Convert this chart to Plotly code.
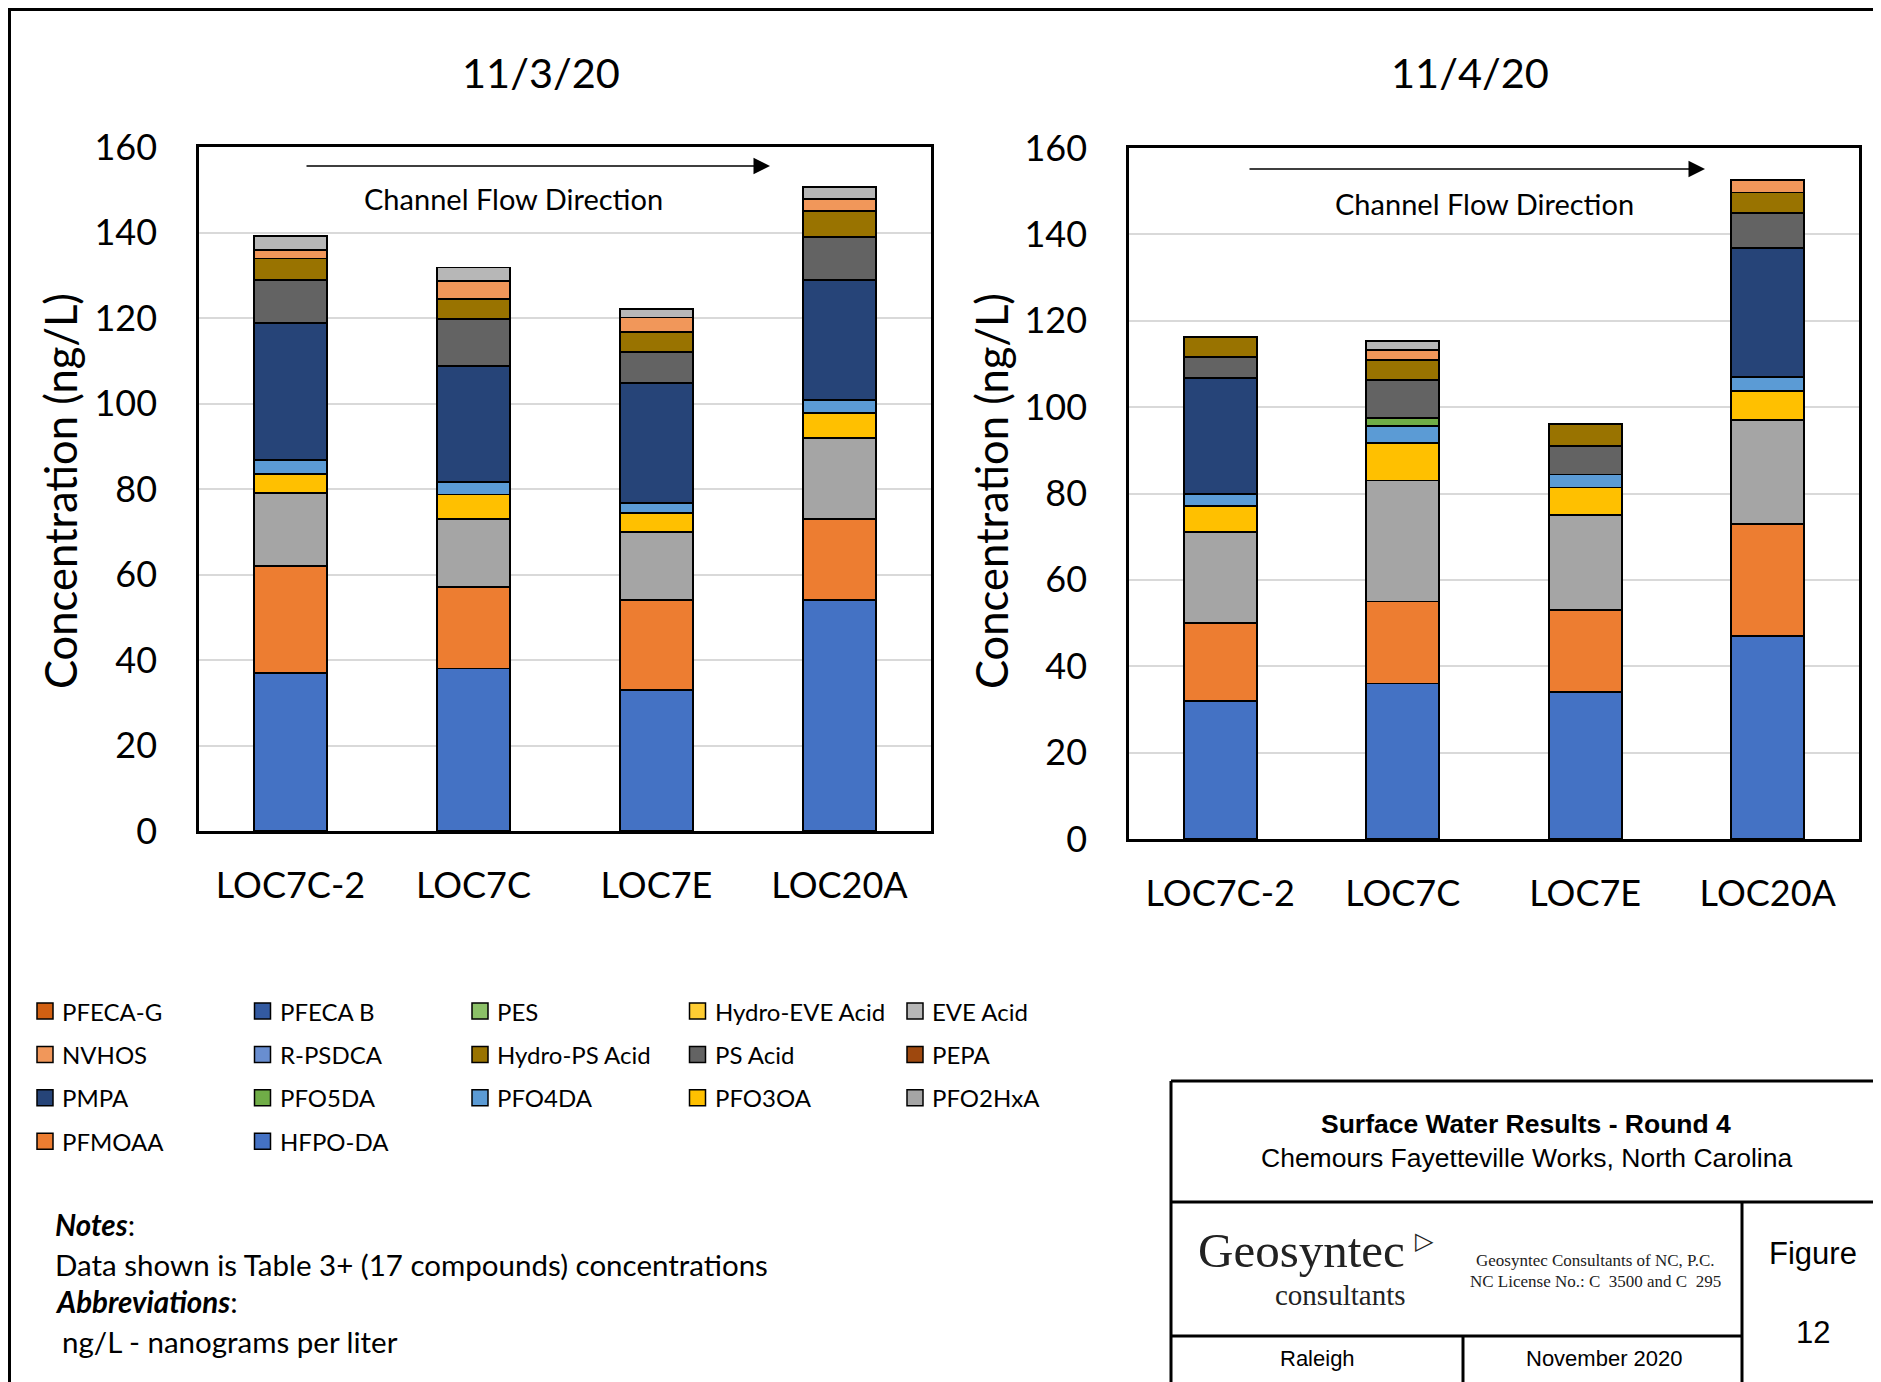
import plotly.graph_objects as go

W, H = 1881, 1382
OFF = 8  # page body margin

sites = ["LOC7C-2", "LOC7C", "LOC7E", "LOC20A"]
dates = ["11/3/20", "11/4/20"]

# stacking order, bottom to top
compounds = ["HFPO-DA", "PFMOAA", "PFO2HxA", "PFO3OA", "PFO4DA", "PFO5DA", "PMPA", "PEPA",
             "PS Acid", "Hydro-PS Acid", "R-PSDCA", "NVHOS", "EVE Acid", "Hydro-EVE Acid",
             "PES", "PFECA B", "PFECA-G"]
colors = ["#4472C4", "#ED7D31", "#A5A5A5", "#FFC000", "#5B9BD5", "#70AD47", "#264478", "#9E480E",
          "#636363", "#997300", "#698ED0", "#F1975A", "#B7B7B7", "#FFCD33",
          "#8CC168", "#335AA1", "#D26012"]

# concentrations in ng/L, one value per site (11/3/20)
hfpo_da_1103 = [37, 38, 33, 54]
pfmoaa_1103 = [25, 19, 21, 19]
pfo2hxa_1103 = [17, 16, 16, 19]
pfo3oa_1103 = [4.6, 5.7, 4.3, 5.8]
pfo4da_1103 = [3.2, 3.0, 2.5, 3.1]
pfo5da_1103 = [0, 0, 0, 0]
pmpa_1103 = [32, 27, 28, 28]
pepa_1103 = [0, 0, 0, 0]
ps_acid_1103 = [10, 11, 7.2, 10]
hydro_ps_1103 = [5.1, 4.8, 4.8, 6.1]
r_psdca_1103 = [0, 0, 0, 0]
nvhos_1103 = [2.1, 4.2, 3.3, 2.8]
eve_1103 = [3.2, 3.1, 2.0, 2.9]
hydro_eve_1103 = [0, 0, 0, 0]
pes_1103 = [0, 0, 0, 0]
pfeca_b_1103 = [0, 0, 0, 0]
pfeca_g_1103 = [0, 0, 0, 0]

# 11/4/20
hfpo_da_1104 = [32, 36, 34, 47]
pfmoaa_1104 = [18, 19, 19, 26]
pfo2hxa_1104 = [21, 28, 22, 24]
pfo3oa_1104 = [6.1, 8.7, 6.4, 6.7]
pfo4da_1104 = [2.7, 3.9, 3.0, 3.2]
pfo5da_1104 = [0, 1.9, 0, 0]
pmpa_1104 = [27, 0, 0, 30]
pepa_1104 = [0, 0, 0, 0]
ps_acid_1104 = [4.8, 8.7, 6.6, 8.0]
hydro_ps_1104 = [4.7, 4.8, 5.1, 4.8]
r_psdca_1104 = [0, 0, 0, 0]
nvhos_1104 = [0, 2.2, 0, 2.8]
eve_1104 = [0, 2.2, 0, 0]
hydro_eve_1104 = [0, 0, 0, 0]
pes_1104 = [0, 0, 0, 0]
pfeca_b_1104 = [0, 0, 0, 0]
pfeca_g_1104 = [0, 0, 0, 0]

nov3 = [hfpo_da_1103, pfmoaa_1103, pfo2hxa_1103, pfo3oa_1103, pfo4da_1103, pfo5da_1103,
        pmpa_1103, pepa_1103, ps_acid_1103, hydro_ps_1103, r_psdca_1103, nvhos_1103,
        eve_1103, hydro_eve_1103, pes_1103, pfeca_b_1103, pfeca_g_1103]
nov4 = [hfpo_da_1104, pfmoaa_1104, pfo2hxa_1104, pfo3oa_1104, pfo4da_1104, pfo5da_1104,
        pmpa_1104, pepa_1104, ps_acid_1104, hydro_ps_1104, r_psdca_1104, nvhos_1104,
        eve_1104, hydro_eve_1104, pes_1104, pfeca_b_1104, pfeca_g_1104]

FONT = "Lato"
ARIAL = "Liberation Sans"
SERIF = "Liberation Serif"


def px(x):
    return (x - OFF) / W


def py(y):
    return 1 - (y - OFF) / H


fig = go.Figure()
for series, xa, ya in [(nov3, "x", "y"), (nov4, "x2", "y2")]:
    for name, vals, col in zip(compounds, series, colors):
        fig.add_trace(go.Bar(x=sites, y=vals, name=name, xaxis=xa, yaxis=ya,
                             marker=dict(color=col, line=dict(color="black", width=1.8)),
                             showlegend=False))

tickfont = dict(family=FONT, size=36, color="black")
frame = dict(showline=True, mirror=True, linecolor="black", linewidth=2.5, automargin=False)
xax = dict(tickfont=tickfont, ticks="", ticklabelstandoff=21, **frame)
yax = dict(range=[0, 160], dtick=20, tickfont=tickfont, ticks="", ticklabelstandoff=32,
           showgrid=True, gridcolor="#D9D9D9", gridwidth=2, zeroline=False, **frame)

fig.update_layout(
    width=W, height=H, margin=dict(l=0, r=0, t=0, b=0, pad=0, autoexpand=False),
    paper_bgcolor="white", plot_bgcolor="white",
    barmode="stack", bargap=0.6, showlegend=False,
    xaxis=dict(domain=[px(199), px(931)], anchor="y", **xax),
    yaxis=dict(domain=[py(831), py(147)], anchor="x", **yax),
    xaxis2=dict(domain=[px(1129), px(1859)], anchor="y2", **xax),
    yaxis2=dict(domain=[py(839), py(148)], anchor="x2", **yax),
)

ann = []
shapes = []


def text(x, y, s, size, family=FONT, xanchor="center", angle=0, color="black"):
    ann.append(dict(x=px(x), y=py(y), xref="paper", yref="paper", text=s, showarrow=False,
                    xanchor=xanchor, yanchor="middle", textangle=angle,
                    font=dict(family=family, size=size, color=color)))


def line(x0, y0, x1, y1, w=3):
    shapes.append(dict(type="line", xref="paper", yref="paper", x0=px(x0), y0=py(y0),
                       x1=px(x1), y1=py(y1), line=dict(color="black", width=w)))


# chart titles, axis titles, flow arrows
for d, cx, ytx, arr in [(dates[0], 541, 60, (305, 770, 166, 513, 198)),
                        (dates[1], 1470, 991, (1248, 1705, 169, 1484, 203))]:
    text(cx, 72, d, 41.5)
    text(ytx, 491, "Concentration (ng/L)", 43.5, angle=-90)
    x0, x1, ya, tx, ty = arr
    ann.append(dict(x=px(x1), y=py(ya), xref="paper", yref="paper", ax=-(x1 - x0), ay=0,
                    text="", showarrow=True, arrowhead=2, arrowsize=2.2, arrowwidth=1.5,
                    arrowcolor="black", standoff=0))
    text(tx, ty, "Channel Flow Direction", 29)

# legend (row-wise, top of stack first)
legend_items = list(zip(compounds, colors))[::-1]
for i, (name, col) in enumerate(legend_items):
    r, c = divmod(i, 5)
    lx = 37 + c * 217.5
    ly = 1011 + r * 43.4
    shapes.append(dict(type="rect", xref="paper", yref="paper", x0=px(lx), x1=px(lx + 16),
                       y0=py(ly + 8), y1=py(ly - 8), fillcolor=col,
                       line=dict(color="black", width=1.5)))
    text(lx + 23, ly, name, 24, xanchor="left")

# notes
text(53, 1224, "<b><i>Notes</i></b>:", 29.5, xanchor="left")
text(53, 1264, "Data shown is Table 3+ (17 compounds) concentrations", 29.5, xanchor="left")
text(53, 1301, "<b><i>Abbreviations</i></b>:", 29.5, xanchor="left")
text(60, 1341, "ng/L - nanograms per liter", 29.5, xanchor="left")

# outer frame
shapes.append(dict(type="rect", xref="paper", yref="paper", x0=1.5 / W, x1=px(1877),
                   y0=py(1420), y1=1 - 1.5 / H, line=dict(color="black", width=3)))

# title block
line(1171, 1081, 1900, 1081)
line(1171, 1081, 1171, 1420)
line(1171, 1202, 1900, 1202)
line(1742, 1202, 1742, 1420)
line(1171, 1336, 1742, 1336)
line(1463, 1336, 1463, 1420)

text(1526, 1124, "<b>Surface Water Results - Round 4</b>", 26.5, family=ARIAL)
text(1526, 1158, "Chemours Fayetteville Works, North Carolina", 26.5, family=ARIAL)
text(1196, 1250, "Geosyntec", 49, family=SERIF, xanchor="left", color="#222222")
text(1424, 1241, "<b>▷</b>", 24, family="DejaVu Sans", color="#222222")
text(1340, 1295, "consultants", 29, family=SERIF, color="#222222")
text(1595, 1260, "Geosyntec Consultants of NC, P.C.", 17, family=SERIF, color="#222222")
text(1595, 1281, "NC License No.: C  3500 and C  295", 17, family=SERIF, color="#222222")
text(1813, 1253, "Figure", 31, family=ARIAL)
text(1813, 1332, "12", 31, family=ARIAL)
text(1317, 1358, "Raleigh", 22, family=ARIAL)
text(1604, 1358, "November 2020", 22, family=ARIAL)

fig.update_layout(annotations=ann, shapes=shapes)
fig.write_html("out.html")
